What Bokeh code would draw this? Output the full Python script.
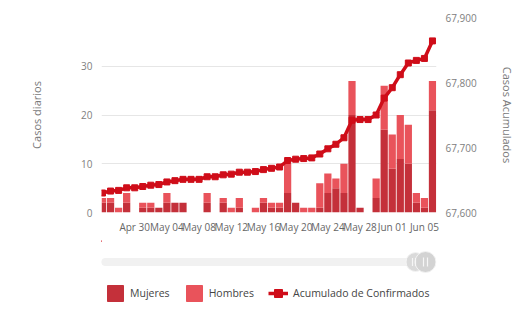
import datetime as dt
import pandas as pd
from bokeh.plotting import figure
from bokeh.models import (Range1d, LinearAxis, FixedTicker, NumeralTickFormatter,
                          DatetimeTickFormatter, Legend, LegendItem, ColumnDataSource)
from bokeh.layouts import column
from bokeh.embed import file_html
from bokeh.resources import INLINE

# ---------------- data ----------------
start_date = "2020-04-26"
mujeres = [2, 2, 0, 2, 0, 1, 1, 1, 2, 2,
           2, 0, 0, 2, 0, 2, 0, 1, 0, 0,
           2, 1, 1, 4, 2, 0, 0, 1, 4, 5,
           4, 20, 1, 0, 3, 17, 9, 11, 10, 2, 1, 21]
hombres = [1, 1, 1, 2, 0, 1, 1, 0, 2, 0,
           0, 0, 0, 2, 0, 1, 1, 2, 0, 1,
           1, 1, 1, 6, 0, 1, 1, 5, 4, 2,
           6, 7, 0, 0, 4, 9, 7, 9, 8, 2, 2, 6]
acumulado = [67630, 67633, 67634, 67638, 67638, 67640, 67642, 67643, 67647, 67649,
             67651, 67651, 67651, 67655, 67655, 67658, 67659, 67662, 67662, 67663,
             67666, 67668, 67670, 67680, 67682, 67683, 67684, 67690, 67698, 67705,
             67715, 67742, 67743, 67743, 67750, 67776, 67792, 67812, 67830, 67834,
             67837, 67864]
dates = pd.date_range(start_date, periods=len(mujeres), freq="D")
tick_dates = ["2020-04-30", "2020-05-04", "2020-05-08", "2020-05-12", "2020-05-16",
              "2020-05-20", "2020-05-24", "2020-05-28", "2020-06-01", "2020-06-05"]
left_ticks = [0, 10, 20, 30]
grid_ticks = [0, 10, 20, 30, 40]
right_ticks = [67600, 67700, 67800, 67900]
legend_labels = ["Mujeres", "Hombres", "Acumulado de Confirmados"]

C_MUJ = "#c4303a"
C_HOM = "#e9535b"
C_LINE = "#cf0d19"
FONT = "Open Sans"

src = ColumnDataSource(dict(date=dates, mujeres=mujeres, hombres=hombres, acumulado=acumulado))

DAY = 86400000
x_start = dates[0].to_pydatetime() - dt.timedelta(hours=3)
x_end = dates[-1].to_pydatetime() + dt.timedelta(hours=12)

FL, FR = 101, 436   # frame left / right (px)

p = figure(width=529, height=240, x_axis_type="datetime",
           x_range=Range1d(x_start, x_end), y_range=Range1d(0, 40),
           output_backend="svg", toolbar_location=None,
           min_border_left=FL, min_border_right=529 - FR, min_border_top=17, min_border_bottom=28)
p.outline_line_color = None
p.background_fill_color = "white"
p.border_fill_color = "white"
p.xgrid.grid_line_color = None
p.ygrid.ticker = FixedTicker(ticks=grid_ticks)
p.ygrid.grid_line_color = "#e6e6e6"
p.ygrid.grid_line_width = 1

p.extra_y_ranges = {"acum": Range1d(right_ticks[0], right_ticks[-1])}

p.vbar_stack(["mujeres", "hombres"], x="date", width=0.9 * DAY, color=[C_MUJ, C_HOM],
             line_color=None, source=src)
p.line(x="date", y="acumulado", y_range_name="acum", line_width=3.5, color=C_LINE, source=src)
p.scatter(x="date", y="acumulado", y_range_name="acum", marker="square", size=6,
          color=C_LINE, source=src)

def style_axis(ax):
    ax.axis_line_color = None
    ax.major_tick_line_color = None
    ax.minor_tick_line_color = None
    ax.major_tick_out = 0
    ax.major_tick_in = 0
    ax.minor_tick_out = 0
    ax.minor_tick_in = 0
    ax.major_label_text_font = FONT
    ax.major_label_text_font_size = "10px"
    ax.major_label_text_color = "#808080"
    ax.axis_label_text_font = FONT
    ax.axis_label_text_font_size = "11px"
    ax.axis_label_text_font_style = "normal"
    ax.axis_label_text_color = "#7a7a7a"

la = p.left[0]
style_axis(la)
la.ticker = FixedTicker(ticks=left_ticks)
la.axis_label = "Casos diarios"
la.major_label_standoff = 9
la.axis_label_standoff = 34

ra = LinearAxis(y_range_name="acum", ticker=FixedTicker(ticks=right_ticks),
                formatter=NumeralTickFormatter(format="0,0"), axis_label="Casos Acumulados")
style_axis(ra)
ra.major_label_standoff = 9
ra.axis_label_standoff = 20
p.add_layout(ra, "right")

xa = p.below[0]
style_axis(xa)
xa.major_label_text_color = "#666666"
xa.ticker = FixedTicker(ticks=[pd.Timestamp(t).value / 1e6 for t in tick_dates])
xa.formatter = DatetimeTickFormatter(days="%b %d", months="%b %d", hours="%b %d")
xa.major_label_standoff = 7

# -------- scrollbar + legend strip (frame aligned with the chart above) --------
H2 = 69
p2 = figure(width=529, height=H2, x_range=Range1d(FL, FR), y_range=Range1d(H2, 0),
            x_axis_location=None, y_axis_location=None,
            output_backend="svg", toolbar_location=None,
            min_border_left=FL, min_border_right=529 - FR, min_border_top=0, min_border_bottom=0)
p2.grid.grid_line_color = None
p2.outline_line_color = None
p2.background_fill_color = "white"
p2.border_fill_color = "white"

# scrollbar (decoration, pixel coordinates)
p2.hbar(y=[21.5], left=[101], right=[424], height=7, color="#f1f1f1", border_radius=4)
p2.scatter(x=[415], y=[21.5], size=19, fill_color="#dadada", line_color="#f3f3f3", line_width=1)
p2.scatter(x=[425], y=[21.5], size=21, fill_color="#d3d3d3", line_color="#f3f3f3", line_width=1)
p2.segment(x0=[412, 415, 423, 427], y0=[17.5, 17.5, 17, 17], x1=[412, 415, 423, 427],
           y1=[25.5, 25.5, 26, 26], line_color="#f6f6f6", line_width=1.2)

# legend proxies (data kept outside the visible range)
r_m = p2.vbar(x=[-50], top=[1], width=1, color=C_MUJ)
r_h = p2.vbar(x=[-50], top=[1], width=1, color=C_HOM)
r_l = p2.line(x=[-60, -50], y=[1, 1], color=C_LINE, line_width=3.5)
r_s = p2.scatter(x=[-50], y=[1], marker="square", size=7, color=C_LINE)

legend = Legend(items=[LegendItem(label=legend_labels[0], renderers=[r_m]),
                       LegendItem(label=legend_labels[1], renderers=[r_h]),
                       LegendItem(label=legend_labels[2], renderers=[r_l, r_s])],
                orientation="horizontal", location=(4, 6), padding=0, margin=0,
                spacing=14, glyph_width=20, glyph_height=20, label_standoff=5,
                label_text_font=FONT, label_text_font_size="10.5px", label_text_color="#444444",
                border_line_color=None, background_fill_alpha=0)
p2.add_layout(legend, "center")

layout = column(p, p2, spacing=0)
open("out.html", "w").write(file_html(layout, INLINE))
